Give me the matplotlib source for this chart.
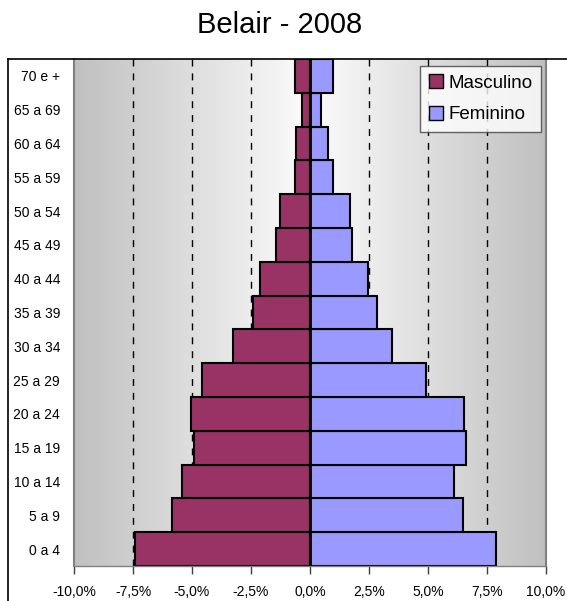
import matplotlib
matplotlib.use("Agg")
import matplotlib.pyplot as plt
import numpy as np
from matplotlib.lines import Line2D

categories = ["0 a 4", "5 a 9", "10 a 14", "15 a 19", "20 a 24", "25 a 29", "30 a 34",
              "35 a 39", "40 a 44", "45 a 49", "50 a 54", "55 a 59", "60 a 64", "65 a 69", "70 e +"]
masculino = [-7.42, -5.86, -5.41, -4.92, -5.04, -4.56, -3.26, -2.42, -2.13, -1.43, -1.28, -0.65, -0.58, -0.35, -0.65]
feminino = [7.89, 6.47, 6.11, 6.62, 6.54, 4.92, 3.49, 2.84, 2.47, 1.77, 1.69, 0.97, 0.78, 0.48, 0.97]
xticks = [-10, -7.5, -5, -2.5, 0, 2.5, 5, 7.5, 10]
xticklabels = ["-10,0%", "-7,5%", "-5,0%", "-2,5%", "0,0%", "2,5%", "5,0%", "7,5%", "10,0%"]
title = "Belair - 2008"

plt.rcParams['font.family'] = ['Liberation Sans', 'DejaVu Sans']

W, H = 567, 601
fig = plt.figure(figsize=(W / 100, H / 100), dpi=100)
ax = fig.add_axes([74 / W, 1 - 566 / H, (546 - 74) / W, (566 - 59) / H])

n = len(categories)
y = np.arange(n)

# gradient background
xs = np.linspace(-10, 10, 400)
vals = 192 + (252 - 192) * (1 - np.abs(xs) / 10)
img = np.tile((vals / 255.0)[None, :, None], (2, 1, 3))
ax.imshow(img, extent=[-10, 10, -0.5, n - 0.5], aspect='auto', zorder=0, interpolation='bilinear')

for xv in [-7.5, -5, -2.5, 2.5, 5, 7.5]:
    ax.axvline(xv, color='black', lw=1.0, linestyle=(0, (5, 5)), zorder=1)

ax.barh(y, masculino, height=1.0, color='#993366', edgecolor='black', lw=1.5, zorder=2, label='Masculino')
ax.barh(y, feminino, height=1.0, color='#9999FF', edgecolor='black', lw=1.5, zorder=2, label='Feminino')
ax.axvline(0, color='black', lw=2, zorder=3)

ax.set_xlim(-10, 10)
ax.set_ylim(-0.5, n - 0.5)
ax.set_xticks(xticks)
ax.set_xticklabels(xticklabels, fontsize=10)
ax.set_yticks(y)
ax.set_yticklabels(categories, fontsize=10)
ax.tick_params(axis='y', length=0, pad=10)
ax.tick_params(axis='x', direction='out', length=6, width=1, color='#404040', pad=8)

for s in ['left', 'right']:
    ax.spines[s].set_color('#808080')
    ax.spines[s].set_linewidth(1.5)
ax.spines['bottom'].set_color('#808080')
ax.spines['bottom'].set_linewidth(1.0)
ax.spines['top'].set_visible(False)

leg = ax.legend(loc='upper right', bbox_to_anchor=(541 / W, 1 - 66 / H), bbox_transform=fig.transFigure,
                fontsize=13.5, frameon=True, fancybox=False, edgecolor='#404040', handlelength=0.75,
                handleheight=0.75, handletextpad=0.3, labelspacing=0.75, borderpad=0.45, borderaxespad=0)
leg.get_frame().set_linewidth(1.0)
for h in leg.legend_handles:
    h.set_linewidth(1.0)

# outer chart frame
fig.add_artist(Line2D([8 / W, 8 / W], [0, 1 - 59 / H], transform=fig.transFigure, color='black', lw=1.2))
fig.add_artist(Line2D([8 / W, 1], [1 - 59 / H, 1 - 59 / H], transform=fig.transFigure, color='black', lw=1.2))

fig.text(280 / W, 1 - 25 / H, title, ha='center', va='center', fontsize=21)

fig.savefig("out.png", dpi=100)
